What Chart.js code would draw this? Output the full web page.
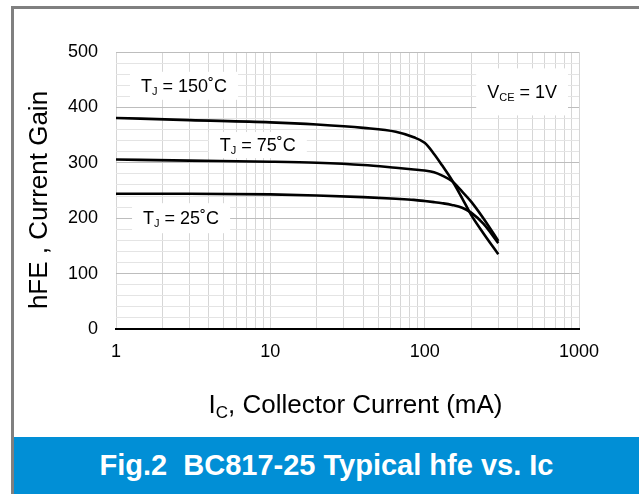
<!DOCTYPE html>
<html>
  <head>
    <meta charset="UTF-8">
    <style>
      body { margin: 0; background: #fff; font-family: "Liberation Sans", Arial, sans-serif; }
      #frame { position: absolute; left: 11px; top: 6px; width: 628px; height: 488px;
               border-left: 3px solid #808080; border-top: 3px solid #808080; box-sizing: border-box; }
      #wrap { position: absolute; left: 0; top: 0; width: 639px; height: 437px; }
      #banner { position: absolute; left: 14px; top: 437px; width: 625px; height: 57px; background: #018fd6;
                color: #fff; font: bold 29px "Liberation Sans", Arial, sans-serif; text-align: center;
                line-height: 57px; white-space: pre; }
    </style>
  </head>
  <body>
    <div id="frame"></div>
    <div id="wrap"><canvas id="hfe-chart"></canvas></div>
    <div id="banner">Fig.2  BC817-25 Typical hfe vs. Ic</div>

    <script src="https://cdn.jsdelivr.net/npm/chart.js@4.4.0/dist/chart.umd.min.js"></script>
    <script type="text/javascript">

      // collector current (mA) and hFE
      const currentMA = [1, 3, 10, 20, 40, 65, 85, 100, 115, 130, 150, 175, 200, 240, 300];
      const hfe150 = [381, 377, 373, 369, 363, 356, 346, 336, 316, 295, 269, 236, 206, 173, 135];
      const hfe75  = [306, 304, 302, 300, 296, 291, 288, 286, 283, 277, 267, 248, 230, 200, 159];
      const hfe25  = [244, 244, 243, 241, 238, 235, 233, 231, 229, 227, 224, 219, 210, 190, 155];

      const xTickLabels = [1, 10, 100, 1000];
      const yTickLabels = [0, 100, 200, 300, 400, 500];

      const FONT = '"Liberation Sans", Arial, sans-serif';

      // text boxes on the plot: [x (mA), y (hFE), parts]
      const notes = [
        { x: 2.76, y: 439, h: 28, parts: [['T'], ['J', 1], [' = 150˚C']] },
        { x: 8.3,  y: 332, h: 26, parts: [['T'], ['J', 1], [' = 75˚C']] },
        { x: 2.64, y: 200, h: 30, parts: [['T'], ['J', 1], [' = 25˚C']] },
        { x: 428,  y: 428, h: 47, parts: [['V'], ['CE', 1], [' = 1V']] }
      ];

      function toSeries(ys) {
        return currentMA.map((x, i) => ({ x: x, y: ys[i] }));
      }

      function drawParts(ctx, cx, baseline, parts, size, subSize, subDrop) {
        const widths = parts.map(p => {
          ctx.font = (p[1] ? subSize : size) + 'px ' + FONT;
          return ctx.measureText(p[0]).width;
        });
        const total = widths.reduce((a, b) => a + b, 0);
        let x = cx - total / 2;
        ctx.textAlign = 'left';
        ctx.textBaseline = 'alphabetic';
        parts.forEach((p, i) => {
          ctx.font = (p[1] ? subSize : size) + 'px ' + FONT;
          ctx.fillText(p[0], x, baseline + (p[1] ? subDrop : 0));
          x += widths[i];
        });
        return total;
      }

      const notesPlugin = {
        id: 'notes',
        beforeDatasetsDraw(chart) {
          const ctx = chart.ctx;
          const xs = chart.scales.x, ys = chart.scales.y;
          ctx.save();
          notes.forEach(n => {
            const cx = xs.getPixelForValue(n.x);
            const cy = ys.getPixelForValue(n.y);
            let w = 0;
            n.parts.forEach(p => {
              ctx.font = (p[1] ? 11 : 18) + 'px ' + FONT;
              w += ctx.measureText(p[0]).width;
            });
            ctx.fillStyle = '#fff';
            ctx.fillRect(cx - w / 2 - 11, cy - n.h / 2, w + 22, n.h);
            ctx.fillStyle = '#000';
            drawParts(ctx, cx, cy + 6, n.parts, 18, 11, 3);
          });
          ctx.restore();
        },
        afterDraw(chart) {
          const ctx = chart.ctx;
          const area = chart.chartArea;
          ctx.save();
          ctx.fillStyle = '#000';
          // x axis title with subscript
          drawParts(ctx, (area.left + area.right) / 2 + 8, 413,
            [['I'], ['C', 1], [', Collector Current (mA)']], 26, 17, 5);
          // y axis title
          ctx.translate(40, 200);
          ctx.rotate(-Math.PI / 2);
          ctx.font = '26px ' + FONT;
          ctx.textAlign = 'center';
          ctx.textBaseline = 'middle';
          ctx.fillText('hFE , Current Gain', 0, 0);
          ctx.restore();
        }
      };

      const lineStyle = {
        borderColor: '#000',
        borderWidth: 2.6,
        pointRadius: 0,
        fill: false,
        cubicInterpolationMode: 'monotone'
      };

      new Chart(document.getElementById('hfe-chart'), {
        type: 'line',
        data: {
          datasets: [
            Object.assign({ label: 'TJ = 150˚C', data: toSeries(hfe150) }, lineStyle),
            Object.assign({ label: 'TJ = 75˚C', data: toSeries(hfe75) }, lineStyle),
            Object.assign({ label: 'TJ = 25˚C', data: toSeries(hfe25) }, lineStyle)
          ]
        },
        options: {
          responsive: true,
          maintainAspectRatio: false,
          animation: false,
          layout: { padding: { left: 0, right: 60, top: 52, bottom: 0 } },
          plugins: { legend: { display: false }, tooltip: { enabled: false } },
          scales: {
            x: {
              type: 'logarithmic',
              min: 1,
              max: 1000,
              afterFit(scale) { scale.height = 108; },
              afterBuildTicks(scale) {
                const t = [];
                for (let d = 1; d < 1000; d *= 10) {
                  for (let k = 1; k < 10; k++) t.push({ value: k * d });
                }
                t.push({ value: 1000 });
                scale.ticks = t;
              },
              ticks: {
                autoSkip: false,
                maxRotation: 0,
                padding: 12,
                color: '#000',
                font: { family: FONT, size: 18 },
                callback: (v) => xTickLabels.includes(v) ? String(v) : ''
              },
              grid: { color: '#d6d6d6', lineWidth: 1, drawTicks: false },
              border: { display: true, color: '#000', width: 2 }
            },
            y: {
              min: 0,
              max: 500,
              afterFit(scale) { scale.width = 116; },
              ticks: {
                stepSize: 20,
                autoSkip: false,
                padding: 18,
                color: '#000',
                font: { family: FONT, size: 18 },
                callback: (v) => yTickLabels.includes(v) ? String(v) : ''
              },
              grid: {
                drawTicks: false,
                color: (c) => (c.tick && c.tick.value % 100 === 0) ? '#bdbdbd' : '#e4e4e4',
                lineWidth: 1
              },
              border: { display: false }
            }
          }
        },
        plugins: [notesPlugin]
      });

    </script>
  </body>
</html>
